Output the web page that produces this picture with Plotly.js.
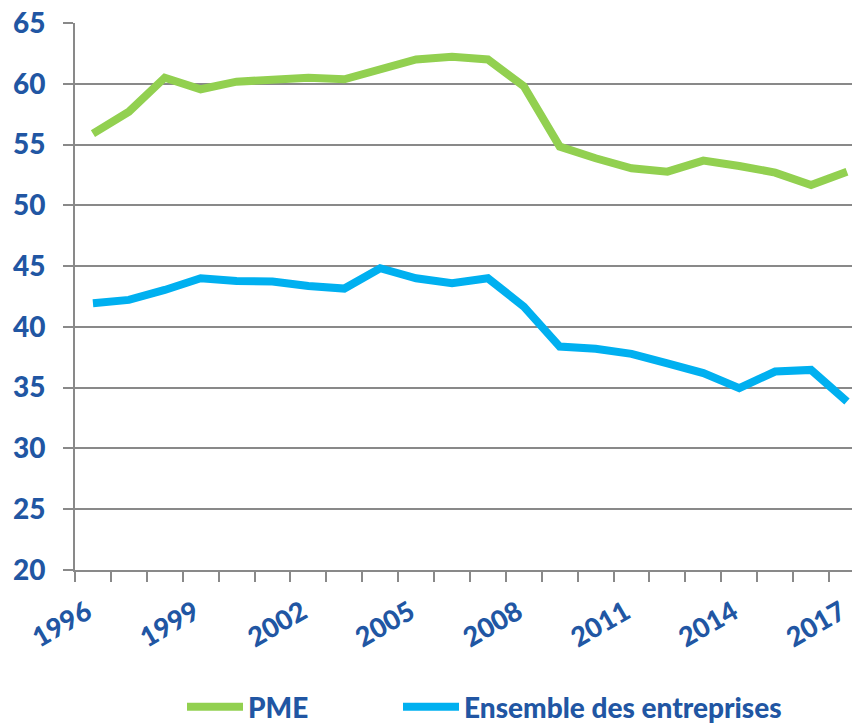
<!DOCTYPE html>
<html>
<head>
<meta charset="utf-8">
<script src="https://cdn.plot.ly/plotly-3.0.1.min.js"></script>
<style>html,body{margin:0;padding:0;background:#fff;}#chart{width:852px;height:726px;}</style>
</head>
<body>
<div id="chart"></div>
<script>
const years = [1996,1997,1998,1999,2000,2001,2002,2003,2004,2005,2006,2007,2008,2009,2010,2011,2012,2013,2014,2015,2016,2017];
const pme = [55.9,57.7,60.5,59.55,60.17,60.26,60.5,60.37,61.27,62.0,62.23,62.0,59.8,54.83,53.87,53.05,52.77,53.68,53.24,52.69,51.68,52.77];
const ensemble = [41.95,42.22,43.04,44.0,43.78,43.73,43.37,43.15,44.83,44.0,43.6,44.0,41.67,38.38,38.2,37.78,37.0,36.2,34.96,36.33,36.46,33.86];
const tickYears = [1996,1999,2002,2005,2008,2011,2014,2017];
const tickLabels = ['1996','1999','2002','2005','2008','2011','2014','2017'];
const yTicks = [20,25,30,35,40,45,50,55,60,65];

const txtColor = '#2156A3';
const gridColor = '#898989';
const fnt = {family: 'Lato, "Open Sans", sans-serif', size: 28, color: txtColor, weight: 900};
const xfnt = Object.assign({}, fnt, {size: 27});
const lfnt = Object.assign({}, fnt, {size: 28});

const traces = [
  {x: years, y: pme, name: 'PME', type: 'scatter', mode: 'lines', legend: 'legend',
   line: {color: '#92D050', width: 8, shape: 'linear'}},
  {x: years, y: ensemble, name: 'Ensemble des entreprises', type: 'scatter', mode: 'lines', legend: 'legend2',
   line: {color: '#00B0F0', width: 8, shape: 'linear'}}
];

const legBase = {orientation: 'h', xanchor: 'left', yanchor: 'middle', xref: 'container', yref: 'container',
                 font: lfnt, itemwidth: 56, bgcolor: 'rgba(0,0,0,0)'};

const layout = {
  width: 852, height: 726,
  margin: {l: 75, r: 0, t: 23, b: 156},
  paper_bgcolor: '#fff', plot_bgcolor: '#fff',
  font: fnt,
  showlegend: true,
  legend: Object.assign({}, legBase, {x: 182/852, y: 1 - 707/726}),
  legend2: Object.assign({}, legBase, {x: 398/852, y: 1 - 707/726}),
  xaxis: {
    range: [1995.5, 2017.14], type: 'linear',
    tickmode: 'array', tickvals: tickYears, ticktext: tickLabels,
    tickangle: -30, ticks: '', tickfont: xfnt, ticklabeloverflow: 'allow',
    ticklabelstandoff: 14, ticklabelshift: -6, automargin: false,
    showgrid: false, zeroline: false,
    showline: true, linecolor: gridColor, linewidth: 2,
    minor: {tick0: 1995.5, dtick: 1, ticks: 'outside', ticklen: 10, tickwidth: 2, tickcolor: gridColor, showgrid: false}
  },
  yaxis: {
    range: [20, 65], tickmode: 'array', tickvals: yTicks, automargin: false,
    ticks: 'outside', ticklen: 10, tickwidth: 2, tickcolor: gridColor,
    tickfont: fnt, ticklabelstandoff: 12,
    showgrid: true, gridcolor: gridColor, gridwidth: 2,
    zeroline: false, showline: true, linecolor: gridColor, linewidth: 2
  }
};

Plotly.newPlot('chart', traces, layout, {displayModeBar: false, staticPlot: true});
</script>
</body>
</html>
